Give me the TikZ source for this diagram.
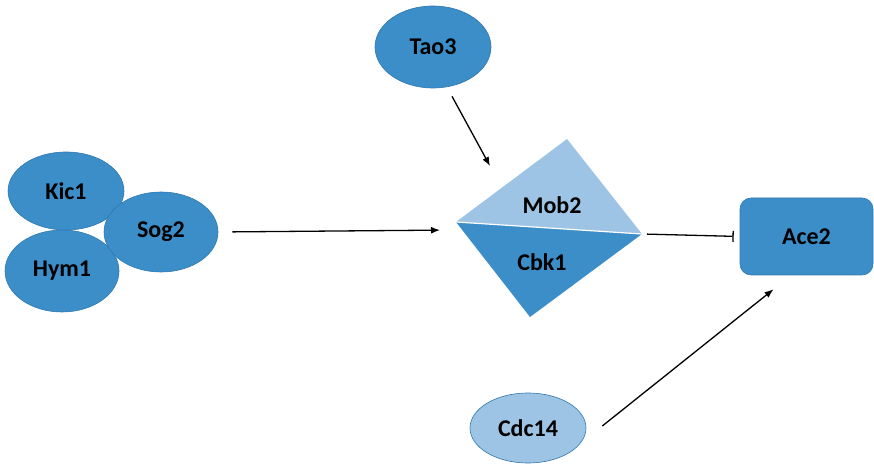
\documentclass[tikz,border=0pt]{standalone}
\usepackage{fontspec}
\setmainfont{Carlito}
\usepackage{tikz}
\usetikzlibrary{shapes.geometric,arrows.meta,positioning,calc}

\definecolor{midblue}{HTML}{3C8EC8}
\definecolor{lightblue}{HTML}{9EC4E5}
\definecolor{edgeblue}{HTML}{2F78B0}

\begin{document}
\begin{tikzpicture}[x=1pt,y=1pt,
  prot/.style={ellipse,draw=edgeblue,line width=0.6pt,fill=midblue,inner sep=0pt,
    font=\fontsize{24}{28}\selectfont\bfseries},
  act/.style={-{Latex[length=9pt,width=7pt]},line width=1.3pt},
  inh/.style={-{Bar[width=11pt]},line width=1.3pt}]
\useasboundingbox (0,0) rectangle (874,471);

% Kic1 / Hym1 / Sog2 complex
\node[prot,minimum width=116pt,minimum height=78pt] (kic1) at (66,280) {Kic1};
\node[prot,minimum width=114pt,minimum height=82pt] (hym1) at (62,200) {Hym1};
\node[prot,minimum width=114pt,minimum height=80pt] (sog2) at (161,239) {Sog2};

% upstream kinase and phosphatase
\node[prot,minimum width=116pt,minimum height=82pt] (tao3) at (433,424) {Tao3};
\node[prot,fill=lightblue,minimum width=116pt,minimum height=70pt] (cdc14) at (528,43) {Cdc14};

% Mob2-Cbk1 kinase
\coordinate (dl) at (456,249);
\coordinate (dt) at (567,332);
\coordinate (dr) at (642,237);
\coordinate (db) at (530,154);
\fill[lightblue] (dl) -- (dt) -- (dr) -- cycle;
\fill[midblue] (dl) -- (dr) -- (db) -- cycle;
\draw[white,line width=1.2pt] (dl) -- (dr);
\node[font=\fontsize{24}{28}\selectfont\bfseries] (mob2) at (552,266) {Mob2};
\node[font=\fontsize{24}{28}\selectfont\bfseries] (cbk1) at (542,209) {Cbk1};

% target
\node[draw=edgeblue,line width=0.6pt,fill=midblue,rounded corners=11pt,
  minimum width=133pt,minimum height=77pt,font=\fontsize{24}{28}\selectfont\bfseries]
  (ace2) at (806.5,234.5) {Ace2};

% connectors
\coordinate (mobin) at (490,305);
\draw[act,shorten <=14pt,shorten >=16pt] (sog2.east) -- ([yshift=-8pt]dl);
\draw[act] ([xshift=19pt,yshift=-8pt]tao3.south) -- (mobin);
\draw[inh,shorten <=5pt,shorten >=6pt] (dr) -- (ace2.west);
\draw[act] ([xshift=16pt,yshift=2pt]cdc14.east) -- ([xshift=-33pt,yshift=-14pt]ace2.south);
\end{tikzpicture}
\end{document}
